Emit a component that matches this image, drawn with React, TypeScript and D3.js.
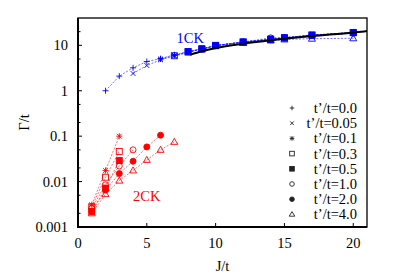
import * as d3 from "d3";
import React, { useEffect, useRef } from "react";

// legend labels / markers, one per t'/t value
const tpLabels = ["t’/t=0.0", "t’/t=0.05", "t’/t=0.1", "t’/t=0.3", "t’/t=0.5", "t’/t=1.0", "t’/t=2.0", "t’/t=4.0"];
const markers = ["plus", "cross", "star", "square", "squareFill", "circle", "circleFill", "triangle"];

// 1CK branch (blue)
const blueJ = [
  [2, 3, 4, 5, 6, 7, 8, 9, 10, 12, 14, 15, 17, 20],
  [4, 5, 6, 7, 8, 9, 10, 12, 14, 15, 17, 20],
  [6, 7, 8, 9, 10, 12, 14, 15, 17, 20],
  [7, 8, 9, 10, 12, 14, 15, 17, 20],
  [8, 9, 10, 12, 14, 15, 17, 20],
  [9, 10, 12, 14, 15, 17, 20],
  [10, 12, 14, 15, 17, 20],
  [12, 14, 15, 17, 20],
];
const blueG = [
  [1.0, 2.1, 3.2, 4.4, 5.1, 6.2, 7.3, 8.4, 9.9, 11.8, 13.5, 14.6, 16.5, 18.7],
  [2.4, 3.6, 4.8, 5.8, 7.0, 8.2, 9.7, 11.7, 13.4, 14.5, 16.4, 18.6],
  [5.0, 6.0, 7.1, 8.3, 9.8, 11.8, 13.5, 14.6, 16.5, 18.8],
  [5.9, 7.1, 8.3, 9.8, 11.8, 13.6, 14.7, 17.0, 19.0],
  [7.3, 8.4, 10.0, 11.9, 13.6, 14.6, 16.6, 19.2],
  [8.2, 9.8, 11.8, 14.6, 14.9, 16.6, 18.5],
  [9.9, 11.8, 13.4, 14.4, 16.5, 19.4],
  [11.3, 12.8, 13.5, 14.0, 14.3],
];

// 2CK branch (red), series index -> data (t'/t=0.0, 0.05 have none)
const redJ = [
  [],
  [],
  [1, 2, 3],
  [1, 2, 3],
  [1, 2, 3],
  [1, 2, 3, 4],
  [1, 2, 3, 4, 5, 6],
  [1, 2, 3, 4, 5, 6, 7],
];
const redG = [
  [],
  [],
  [0.0031, 0.0176, 0.1],
  [0.0028, 0.0125, 0.046],
  [0.0022, 0.0072, 0.029],
  [0.0026, 0.0085, 0.022, 0.05],
  [0.0022, 0.0065, 0.015, 0.028, 0.058, 0.105],
  [0.002, 0.0053, 0.0105, 0.0176, 0.03, 0.05, 0.075],
];

// thick black reference curve
const fitJ = [8.15, 9, 10, 12, 14, 15, 17, 20, 21];
const fitG = [6.2, 7.4, 8.7, 10.9, 13.0, 14.0, 16.0, 19.2, 20.6];

const xTicks = [0, 5, 10, 15, 20];
const yTicks = [0.001, 0.01, 0.1, 1, 10];
const yTickLabels = ["0.001", "0.01", "0.1", "1", "10"];

const W = 395,
  H = 276;
const FONT = "'Liberation Serif', 'DejaVu Serif', serif";

function drawMarker(
  g: d3.Selection<SVGGElement, unknown, null, undefined>,
  kind: string,
  x: number,
  y: number,
  color: string,
  r = 3
) {
  const sw = 0.9;
  if (kind === "plus" || kind === "star") {
    g.append("path")
      .attr("d", `M${x - r},${y}H${x + r}M${x},${y - r}V${y + r}`)
      .attr("stroke", color)
      .attr("stroke-width", sw);
  }
  if (kind === "cross" || kind === "star") {
    const c = r * 0.8;
    g.append("path")
      .attr("d", `M${x - c},${y - c}L${x + c},${y + c}M${x - c},${y + c}L${x + c},${y - c}`)
      .attr("stroke", color)
      .attr("stroke-width", sw);
  }
  if (kind === "square" || kind === "squareFill") {
    g.append("rect")
      .attr("x", x - r)
      .attr("y", y - r)
      .attr("width", 2 * r)
      .attr("height", 2 * r)
      .attr("fill", kind === "squareFill" ? color : "none")
      .attr("stroke", color)
      .attr("stroke-width", sw);
  }
  if (kind === "circle" || kind === "circleFill") {
    g.append("circle")
      .attr("cx", x)
      .attr("cy", y)
      .attr("r", r)
      .attr("fill", kind === "circleFill" ? color : "none")
      .attr("stroke", color)
      .attr("stroke-width", sw);
  }
  if (kind === "triangle") {
    const s = r + 0.5;
    g.append("path")
      .attr("d", `M${x},${y - s}L${x + s},${y + s - 1}L${x - s},${y + s - 1}Z`)
      .attr("fill", "none")
      .attr("stroke", color)
      .attr("stroke-width", sw);
  }
}

const Chart: React.FC = () => {
  const ref = useRef<SVGSVGElement>(null);

  useEffect(() => {
    if (!ref.current) return;
    const svg = d3.select(ref.current);
    svg.selectAll("*").remove();

    const left = 78,
      right = 367,
      top = 18,
      bottom = 227;

    const x = d3.scaleLinear().domain([0, 21]).range([left, right]);
    const y = d3.scaleLog().domain([0.001, 40]).range([bottom, top]);

    const root = svg.append("g") as d3.Selection<SVGGElement, unknown, null, undefined>;

    svg
      .append("defs")
      .append("clipPath")
      .attr("id", "plotclip")
      .append("rect")
      .attr("x", left)
      .attr("y", top)
      .attr("width", right - left)
      .attr("height", bottom - top);

    const plot = root.append("g").attr("clip-path", "url(#plotclip)") as d3.Selection<
      SVGGElement,
      unknown,
      null,
      undefined
    >;

    const line = d3
      .line<[number, number]>()
      .x((d) => x(d[0]))
      .y((d) => y(d[1]));

    // red 2CK series
    redJ.forEach((js, i) => {
      if (!js.length) return;
      const pts = js.map((j, k) => [j, redG[i][k]] as [number, number]);
      plot
        .append("path")
        .attr("d", line(pts))
        .attr("fill", "none")
        .attr("stroke", "#ff2020")
        .attr("stroke-width", 0.8)
        .attr("stroke-dasharray", "2,1.5")
        .attr("opacity", 0.8);
    });
    redJ.forEach((js, i) => {
      js.forEach((j, k) => drawMarker(plot, markers[i], x(j), y(redG[i][k]), "#ff0000"));
    });

    // blue 1CK series
    blueJ.forEach((js, i) => {
      const pts = js.map((j, k) => [j, blueG[i][k]] as [number, number]);
      plot
        .append("path")
        .attr("d", line(pts))
        .attr("fill", "none")
        .attr("stroke", "#2020ff")
        .attr("stroke-width", 0.8)
        .attr("stroke-dasharray", "2,1.5")
        .attr("opacity", 0.8);
    });
    blueJ.forEach((js, i) => {
      js.forEach((j, k) => drawMarker(plot, markers[i], x(j), y(blueG[i][k]), "#0000ff"));
    });

    // black curve
    plot
      .append("path")
      .attr("d", d3.line<number>().x((d) => x(d)).y((d, k) => y(fitG[k])).curve(d3.curveMonotoneX)(fitJ))
      .attr("fill", "none")
      .attr("stroke", "black")
      .attr("stroke-width", 2);

    // frame
    root
      .append("rect")
      .attr("x", left)
      .attr("y", top)
      .attr("width", right - left)
      .attr("height", bottom - top)
      .attr("fill", "none")
      .attr("stroke", "black")
      .attr("stroke-width", 1.3);
    root.append("line").attr("x1", left).attr("x2", left).attr("y1", top).attr("y2", bottom + 1)
      .attr("stroke", "black").attr("stroke-width", 2);
    root.append("line").attr("x1", left - 1).attr("x2", right).attr("y1", bottom).attr("y2", bottom)
      .attr("stroke", "black").attr("stroke-width", 2);

    // x ticks
    xTicks.forEach((t) => {
      if (t > 0)
        root.append("line").attr("x1", x(t)).attr("x2", x(t)).attr("y1", bottom).attr("y2", bottom - 4)
          .attr("stroke", "black").attr("stroke-width", 1);
      root
        .append("text")
        .attr("x", x(t))
        .attr("y", 248)
        .attr("text-anchor", "middle")
        .style("font-family", FONT)
        .style("font-size", "14.5px")
        .text(String(t));
    });

    // y ticks (major + minor at 2, 5)
    yTicks.forEach((t, i) => {
      root.append("line").attr("x1", left).attr("x2", left + 4).attr("y1", y(t)).attr("y2", y(t))
        .attr("stroke", "black").attr("stroke-width", 1);
      [2, 5].forEach((m) => {
        const v = t * m;
        if (v < 40)
          root.append("line").attr("x1", left).attr("x2", left + 2.5).attr("y1", y(v)).attr("y2", y(v))
            .attr("stroke", "black").attr("stroke-width", 1);
      });
      root
        .append("text")
        .attr("x", 68)
        .attr("y", y(t))
        .attr("dy", "0.35em")
        .attr("text-anchor", "end")
        .style("font-family", FONT)
        .style("font-size", "14.5px")
        .text(yTickLabels[i]);
    });

    // axis titles
    root
      .append("text")
      .attr("x", (left + right) / 2)
      .attr("y", 271)
      .attr("text-anchor", "middle")
      .style("font-family", FONT)
      .style("font-size", "14.5px")
      .text("J/t");
    root
      .append("text")
      .attr("transform", `translate(29,${(top + bottom) / 2}) rotate(-90)`)
      .attr("text-anchor", "middle")
      .style("font-family", FONT)
      .style("font-size", "14.5px")
      .text("Γ/t");

    // branch labels
    root
      .append("text")
      .attr("x", 176.5)
      .attr("y", 43)
      .style("font-family", FONT)
      .style("font-size", "14.5px")
      .attr("fill", "#0000ff")
      .text("1CK");
    root
      .append("text")
      .attr("x", 133)
      .attr("y", 200.5)
      .style("font-family", FONT)
      .style("font-size", "14.5px")
      .attr("fill", "#ff0000")
      .text("2CK");

    // legend
    tpLabels.forEach((lab, i) => {
      const ly = 108 + i * 15.2;
      drawMarker(root, markers[i], 292, ly, "#222", 2.3);
      root
        .append("text")
        .attr("x", 357)
        .attr("y", ly)
        .attr("dy", "0.35em")
        .attr("text-anchor", "end")
        .style("font-family", FONT)
        .style("font-size", "14.5px")
        .text(lab);
    });
  }, []);

  return (
    <svg
      ref={ref}
      width={W}
      height={H}
      style={{ position: "absolute", left: 0, top: 0, background: "white" }}
    />
  );
};

export default function App() {
  return <Chart />;
}
